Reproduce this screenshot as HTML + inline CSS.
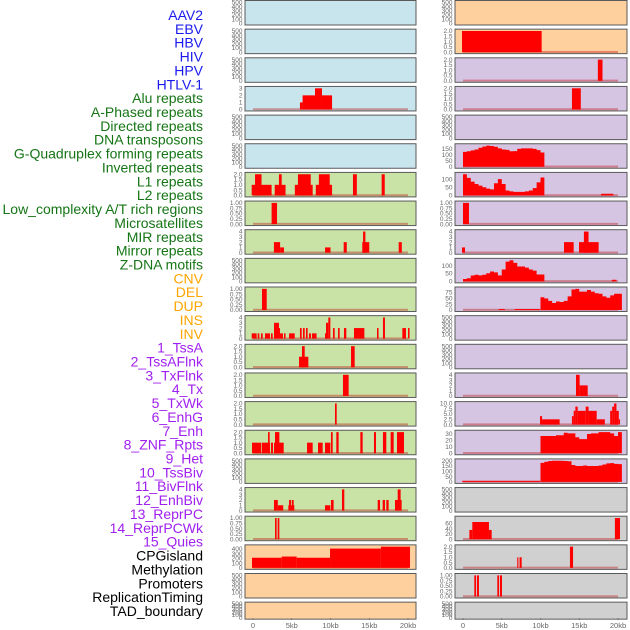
<!DOCTYPE html>
<html><head><meta charset="utf-8"><style>
html,body{margin:0;padding:0;background:#fff;}
svg{display:block;font-family:"Liberation Sans",sans-serif;}
</style></head><body>
<svg id="chart" width="630" height="630" viewBox="0 0 630 630"></svg>
<script>
const labels=["AAV2","EBV","HBV","HIV","HPV","HTLV-1","Alu repeats","A-Phased repeats","Directed repeats","DNA transposons","G-Quadruplex forming repeats","Inverted repeats","L1 repeats","L2 repeats","Low_complexity A/T rich regions","Microsatellites","MIR repeats","Mirror repeats","Z-DNA motifs","CNV","DEL","DUP","INS","INV","1_TssA","2_TssAFlnk","3_TxFlnk","4_Tx","5_TxWk","6_EnhG","7_Enh","8_ZNF_Rpts","9_Het","10_TssBiv","11_BivFlnk","12_EnhBiv","13_ReprPC","14_ReprPCWk","15_Quies","CPGisland","Methylation","Promoters","ReplicationTiming","TAD_boundary"];
const labelGroups=[6,13,5,15,5];
const groupColors=["#1a1aee","#157515","#ffa500","#a020f0","#000000"];
const E=["0","100","200","300","400","500"],T2=["0.0","0.5","1.0","1.5","2.0"],T1=["0.00","0.25","0.50","0.75","1.00"],T4=["0","1","2","3","4"],T3=["0","1","2","3"];
const xTicks=[0,5,10,15,20];
const xTickLabels=["0","5kb","10kb","15kb","20kb"];
const ticksL=[E,E,E,T3,E,E,T2,T1,T4,E,T1,T4,T2,T2,T2,T2,E,T4,T1,["0","100","200","300","400"],E,E];
const ticksR=[E,T2,T2,T2,E,["0","50","100","150"],["0","50","100"],T1,T4,["0","50","100"],["0","25","50","75"],E,E,T4,["0.0","2.5","5.0","7.5","10.0"],["0","10","20","30"],["0","50","100","150","200"],E,["0","20","40","60"],T2,T1,E];
// segments [startKb, endKb, value]
const segsL=[[],[],[],
[[6.06,6.4,1],[6.4,8.0,2],[8.0,8.9,3],[8.9,10.2,2]],
[],[],
[[-0.17,2.4,1],[0.26,1.1,2],[2.8,4.2,1],[3.35,3.7,2],[5.4,7.7,1],[5.8,7.45,2],[8.1,10.2,1],[8.5,9.9,2],[12.9,13.4,2],[16.6,17.0,2]],
[[2.4,3.1,1]],
[[2.7,3.5,2],[3.5,4.0,1],[9.3,10.0,1],[11.7,12.1,2],[14.1,15.0,2],[14.2,14.5,4],[18.8,19.2,2]],
[],
[[1.16,1.77,1]],
[[-0.17,0.47,1],[0.6,0.82,1],[1.03,1.25,1],[1.55,2.19,1],[2.32,2.54,1],[2.71,3.35,3],[3.35,3.48,2],[3.48,3.87,1],[4.0,4.2,1],[4.65,5.38,1],[6.06,6.28,2],[6.45,6.67,2],[6.84,7.05,2],[7.23,7.48,1],[7.61,8.2,1],[9.29,9.5,1],[9.42,9.72,3],[9.72,9.98,4],[10.32,10.54,2],[10.97,11.18,2],[11.74,12.04,2],[13.03,14.37,2],[16.0,16.2,2],[16.77,17.03,4],[19.27,19.74,2],[20.0,20.2,2]],
[[5.94,7.14,1],[6.32,6.67,2],[12.65,13.12,2]],
[[11.61,12.34,2]],
[[10.58,10.8,2]],
[[-0.13,1.03,1],[1.12,2.19,1],[1.94,2.15,2],[2.32,2.58,1],[2.71,3.96,1],[2.84,3.4,2],[6.97,7.7,1],[8.39,8.99,1],[9.29,9.98,1],[10.06,10.28,2],[10.75,11.05,2],[13.85,14.15,2],[15.61,15.87,2],[16.77,17.2,2],[17.76,18.15,2],[18.58,19.48,2]],
[],
[[2.71,3.2,2],[3.2,3.9,1],[4.56,5.33,1],[4.65,4.9,2],[5.0,5.25,2],[9.29,9.98,1],[10.06,10.4,2],[11.48,11.78,4],[16.09,16.39,2],[16.73,17.03,2],[17.2,17.5,2],[18.32,19.18,2],[18.67,19.05,4]],
[[2.84,3.05,1],[3.18,3.4,1]],
[[-0.13,3.7,215],[3.7,5.63,240],[5.63,9.94,215],[9.94,16.5,410],[16.5,20.26,450]],
[],[]];
const segsR=[[],
[[-0.13,10.15,2]],
[[17.4,18.0,2]],
[[14.06,15.2,2]],
[],[],
[[17.8,19.4,10]],
[[0,0.77,1]],
[[-0.13,0.26,1],[13.03,14.28,2],[14.97,17.5,2],[15.6,16.2,4]],
[[19.2,19.8,10]],
[[4.6,5.4,4],[6.67,9.9,4]],
[],[],
[[14.58,15.05,4],[15.05,16.09,2]],
[[9.94,10.2,4],[10.2,12.47,2.5],[14.06,14.28,4],[14.28,14.5,6.5],[14.5,14.8,8.5],[14.8,15.83,6.5],[15.83,16.2,8.5],[16.2,17.25,6.5],[17.25,18.3,2.5],[18.99,19.25,6.5],[19.25,19.5,8.5],[19.5,19.8,10],[19.8,20.1,6.5],[20.1,20.26,2.5]],
[],
[[-0.13,9.94,10]],
[],
[[0.82,1.2,35],[1.2,3.35,65],[3.35,3.7,35],[19.6,20.26,80]],
[[7.0,7.15,1],[7.3,7.57,1],[13.8,14.2,2]],
[[1.46,1.68,1],[1.8,2.06,1],[4.43,4.65,1],[4.77,5.03,1]],
[]];
// profiles: [startKb, stepKb, values...]
const profR5=[0,0.5,125,130,138,145,160,170,178,175,168,155,145,142,130,132,150,155,155,155,150,140,120];
const profR6=[0,0.5,130,108,85,70,60,50,42,37,75,100,70,30,25,22,22,22,25,30,45,80,110];
const profR9=[0,0.5,15,20,37,42,38,42,51,62,57,38,75,125,134,117,94,94,87,75,68,43,43];
const profR10=[10,0.5,54,49,39,30,36,34,39,58,87,90,78,78,85,78,71,69,58,52,62,69,69];
const profR15=[10,0.5,27,27,27,27,28,28,32,31,31,25,22,22,30,31,31,33,33,33,31,27,33];
const profR16=[10,0.5,180,190,198,200,200,200,198,195,160,150,150,155,150,150,150,155,165,175,178,170,168];
const profL=[];
const profR=[];
profR[5]=profR5;profR[6]=profR6;profR[9]=profR9;profR[10]=profR10;profR[15]=profR15;profR[16]=profR16;

const bgL=i=>i<6?"#c8e4ec":(i<19?"#c9e2a5":"#fed09e");
const bgR=i=>i<2?"#fed09e":(i<17?"#d5c5e2":"#d0d0d0");
const NS="http://www.w3.org/2000/svg";
const svg=document.getElementById("chart");
function mk(tag,attrs,parent){const e=document.createElementNS(NS,tag);for(const k in attrs)e.setAttribute(k,attrs[k]);(parent||svg).appendChild(e);return e;}

const labelG=mk("g",{});


let li=0;
labelGroups.forEach((n,g)=>{for(let j=0;j<n;j++){const t=mk("text",{x:203,y:15+li*13.86+5,"text-anchor":"end","font-size":"14",fill:groupColors[g]},labelG);t.textContent=labels[li];


li++;}});

const sides=[{x0:245,x1:416,z:253,ticks:ticksL,segs:segsL,prof:profL,bg:bgL,name:"left"},{x0:455,x1:627,z:463,ticks:ticksR,segs:segsR,prof:profR,bg:bgR,name:"right"}];
const KB=7.75;
const NR=22;
sides.forEach(sd=>{
  const xs=kb=>sd.z+kb*KB;
  for(let i=0;i<NR;i++){
    const top=0.5+28.65*i, h=(i===NR-1)?17:24.5;
    const g=mk("g",{});
    
    
    mk("rect",{x:sd.x0,y:top,width:sd.x1-sd.x0,height:h,fill:sd.bg(i)},g);
    const segs=sd.segs[i]||[]; const pr=sd.prof[i];
    const tv=sd.ticks[i].map(parseFloat);
    let dmax=tv[tv.length-1];
    segs.forEach(s=>{dmax=Math.max(dmax,s[2]);});
    if(pr) for(let k=2;k<pr.length;k++) dmax=Math.max(dmax,pr[k]);
    const ymax=dmax*1.04;
    const yb=top+h-1.5, ph=h-2.5;
    const ys=v=>yb-v/ymax*ph;
    const hasData=segs.length>0||!!pr;
    if(hasData){const b=mk("rect",{x:xs(0),y:yb-1.2,width:20*KB,height:2,fill:"rgba(190,20,20,0.4)"},g);
      
      }
    segs.forEach(s=>{const r=mk("rect",{x:xs(s[0]),y:ys(s[2]),width:Math.max(0.8,(s[1]-s[0])*KB),height:yb-ys(s[2]),fill:"#ff0000"},g);
      
      });
    if(pr){let d="M"+xs(pr[0])+","+yb;
      for(let k=2;k<pr.length;k++){const a=pr[0]+(k-2)*pr[1];d+=" L"+xs(a)+","+ys(pr[k])+" L"+xs(a+pr[1])+","+ys(pr[k]);}
      d+=" L"+xs(pr[0]+(pr.length-2)*pr[1])+","+yb+"Z";
      const p=mk("path",{d:d,fill:"#ff0000"},g);
      
      }
    mk("rect",{x:sd.x0,y:top,width:sd.x1-sd.x0,height:h,fill:"none",stroke:"#5a5a5a","stroke-width":1},g);
    sd.ticks[i].forEach((lab,k)=>{const t=mk("text",{x:sd.x0-2.5,y:ys(tv[k])+2.2,"text-anchor":"end","font-size":"6.5",fill:"#666"},g);t.textContent=lab;
      
      });
  }
  const ax=mk("g",{});
  
  
  xTicks.forEach((v,k)=>{mk("line",{x1:xs(v),x2:xs(v),y1:618,y2:620,stroke:"#666","stroke-width":0.6},ax);
    const t=mk("text",{x:xs(v),y:628,"text-anchor":"middle","font-size":"7.5",fill:"#666"},ax);t.textContent=xTickLabels[k];
    
    });
});
</script>
</body></html>
